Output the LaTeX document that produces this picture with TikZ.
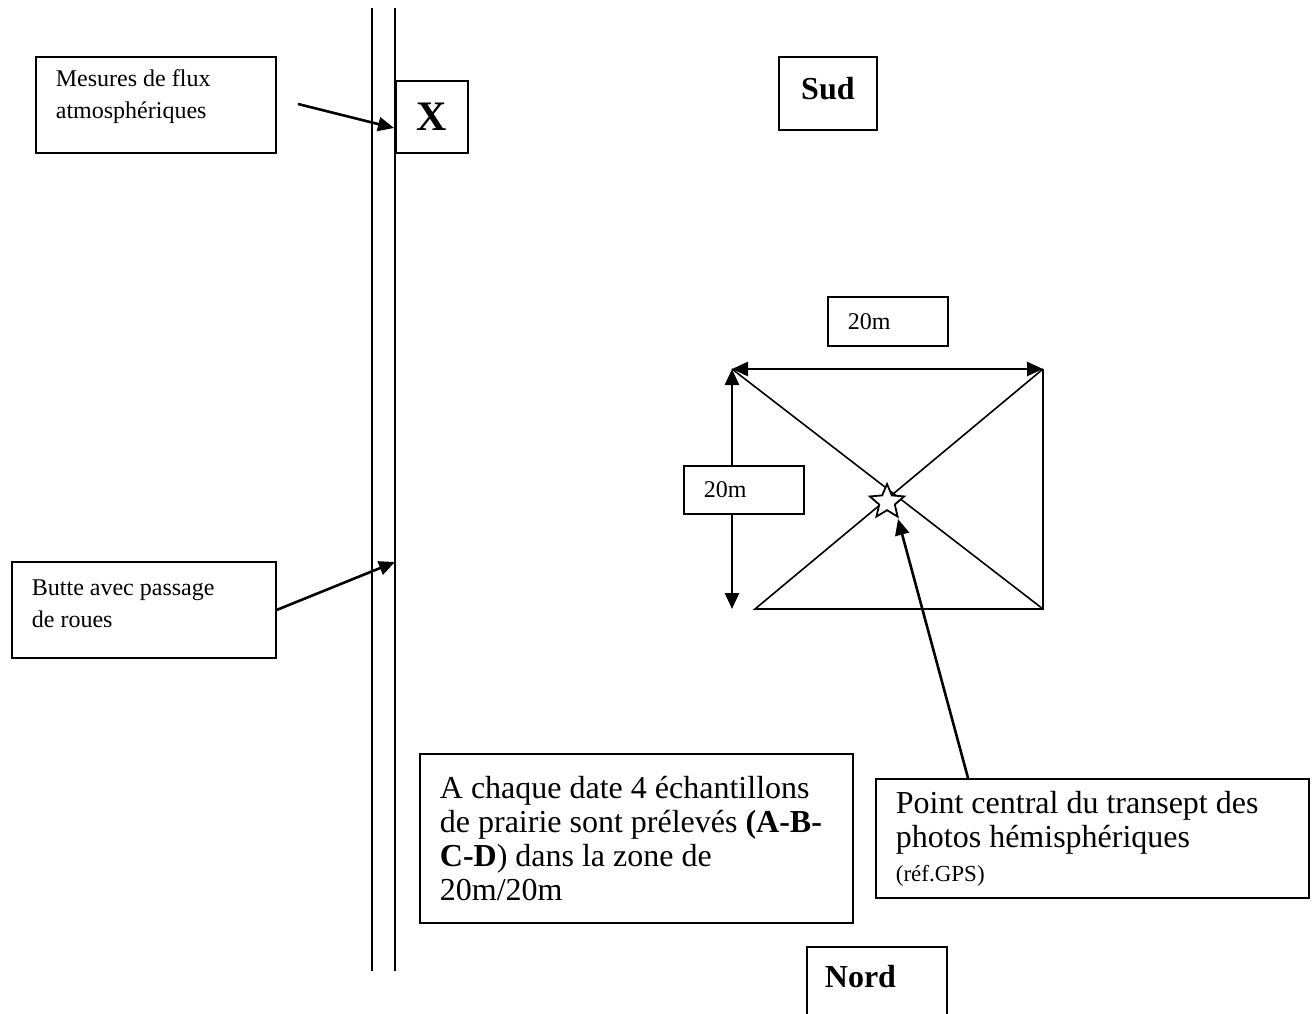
\documentclass[tikz,border=0pt]{standalone}
\usepackage{fontspec}
\setmainfont{Liberation Serif}
\usetikzlibrary{arrows.meta,shapes.geometric}

\tikzset{
  note/.style={draw, line width=0.9pt, fill=white, anchor=north west, align=flush left, inner xsep=10pt, inner ysep=0pt},
  tag/.style={draw, line width=0.9pt, fill=white, anchor=north west, align=center, inner sep=0pt, font=\fontsize{16}{18}\selectfont\bfseries},
  smalltext/.style={font=\fontsize{12}{16}\selectfont},
  bigtext/.style={font=\fontsize{16}{17}\selectfont},
  lift/.style={execute at end node={\par\vspace*{#1}}},
  thinline/.style={line width=0.8pt},
  pointer/.style={line width=1.3pt, -{Triangle[length=8pt,width=7pt]}},
  span/.style={line width=1.3pt, {Triangle[length=8pt,width=7pt]}-{Triangle[length=8pt,width=7pt]}}
}

\begin{document}
\begin{tikzpicture}[x=0.5pt, y=-0.5pt]
\useasboundingbox (0,0) rectangle (1316,1013);
\clip (0,0) rectangle (1316,1013);

% chemin (double trait)
\coordinate (roadL top) at (372,8);
\coordinate (roadL bot) at (372,971);
\coordinate (roadR top) at (395,8);
\coordinate (roadR bot) at (395,971);
\draw[thinline] (roadL top) -- (roadL bot);
\draw[thinline] (roadR top) -- (roadR bot);

% zone 20m x 20m
\coordinate (tl) at (732,369);
\coordinate (tr) at (1043,369);
\coordinate (br) at (1043,609);
\coordinate (bl) at (755,609);
\coordinate (vbot) at (732,609);
\draw[thinline] (tr) -- (br) -- (bl) -- (tr);
\draw[thinline] (tl) -- (br);
\draw[span] (tl) -- (tr);
\draw[span] (tl) -- (vbot);

% etiquettes
\node[note, smalltext, lift=8pt, text width=100pt, minimum height=48pt] (flux) at (35,56) {Mesures de flux\\atmosphériques};
\node[tag, minimum width=36pt, minimum height=36pt, font=\fontsize{21}{24}\selectfont\bfseries] (mast) at (395,80) {X};
\node[tag, minimum width=49pt, minimum height=36.5pt, text depth=5pt] (sud) at (778,56) {Sud};
\node[note, smalltext, text width=40pt, minimum height=24.5pt] (width) at (827,296) {20m};
\node[note, smalltext, text width=40pt, minimum height=24pt] (height) at (683,465) {20m};
\node[star, star points=5, star point ratio=2.2, draw, line width=0.9pt, fill=white, minimum size=18pt, inner sep=0pt] (centre) at (887,502) {};
\node[note, smalltext, lift=6pt, text width=112pt, minimum height=48pt] (butte) at (11,561) {Butte avec passage\\de roues};
\node[note, bigtext, text width=196.5pt, minimum height=84.5pt] (samples) at (419,753)
  {A chaque date 4 échantillons\\de prairie sont prélevés \textbf{(A-B-}\\\textbf{C-D}) dans la zone de\\20m/20m};
\node[note, bigtext, text width=196.5pt, minimum height=59.5pt] (gps) at (875,778)
  {Point central du transept des\\photos hémisphériques\\{\fontsize{11.5}{13}\selectfont(réf.GPS)}};
\node[note, font=\fontsize{16}{18}\selectfont\bfseries, text width=52pt, inner xsep=9pt, text height=20.5pt, text depth=40pt] (nord) at (806,946) {Nord};

% fleches
\coordinate (fluxtail) at (298,104);
\coordinate (fluxhead) at (394,128);
\draw[pointer] (fluxtail) -- (fluxhead);
\coordinate (buttehead) at (395,562);
\draw[pointer] (butte.east) -- (buttehead);
\coordinate (gpstail) at (968,778);
\coordinate (gpshead) at (898,519);
\draw[pointer] (gpstail) -- (gpshead);
\end{tikzpicture}
\end{document}
